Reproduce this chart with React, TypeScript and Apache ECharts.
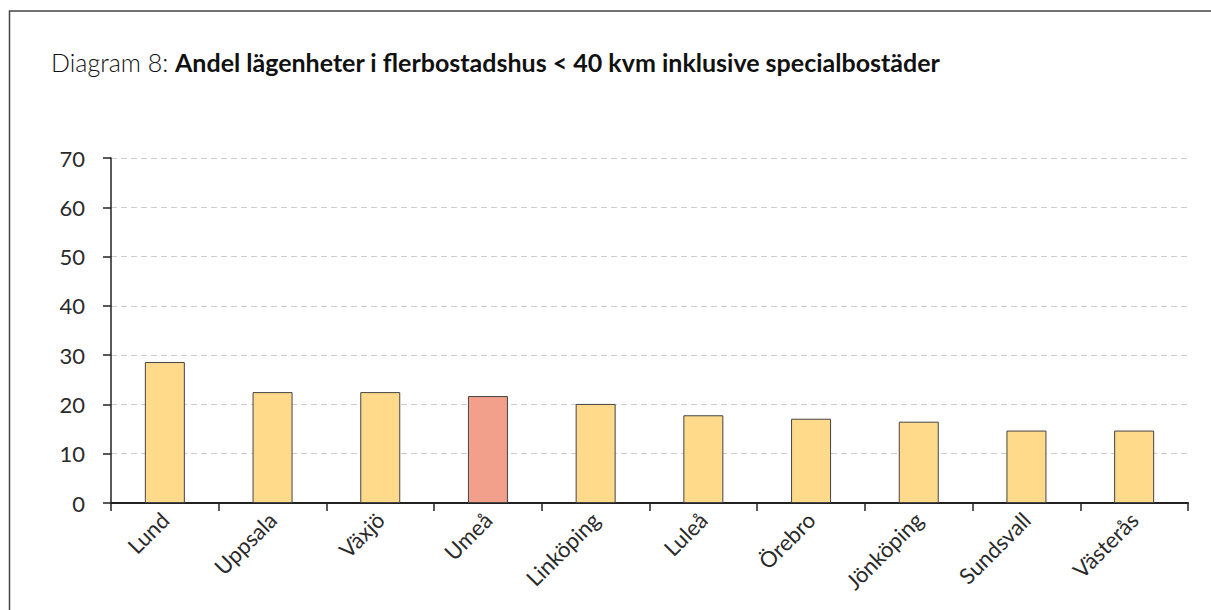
import React, { useEffect, useRef } from "react";
import * as echarts from "echarts";

const categories = ["Lund", "Uppsala", "Växjö", "Umeå", "Linköping", "Luleå", "Örebro", "Jönköping", "Sundsvall", "Västerås"];
const values = [28.6, 22.5, 22.5, 21.7, 20.1, 17.8, 17.1, 16.5, 14.7, 14.7];
const highlight = "Umeå";
const yTicks = [0, 10, 20, 30, 40, 50, 60, 70];

const FONT = "Lato, 'Open Sans', sans-serif";

export default function App() {
  const ref = useRef<HTMLDivElement>(null);
  useEffect(() => {
    if (!ref.current) return;
    const chart = echarts.init(ref.current, undefined, { renderer: "svg" });
    chart.setOption({
      animation: false,
      backgroundColor: "#ffffff",
      title: {
        left: 46,
        top: 44,
        text: "{a|Diagram 8: }{b|Andel lägenheter i flerbostadshus < 40 kvm inklusive specialbostäder}",
        textStyle: {
          rich: {
            a: { fontFamily: FONT, fontSize: 25, fontWeight: 300, color: "#111" },
            b: { fontFamily: FONT, fontSize: 25, fontWeight: "bold", color: "#111" },
          },
        },
      },
      graphic: [
        {
          type: "rect",
          shape: { x: 9.5, y: 11, width: 1400, height: 800 },
          style: { fill: "none", stroke: "#444", lineWidth: 1.5 },
          silent: true,
        },
      ],
      grid: { left: 111, right: 23, top: 158, bottom: 107 },
      xAxis: {
        type: "category",
        data: categories,
        axisLine: { lineStyle: { color: "#222", width: 2 } },
        axisTick: { show: true, length: 8, lineStyle: { color: "#222", width: 1.5 } },
        axisLabel: {
          rotate: 45,
          interval: 0,
          margin: 13,
          fontFamily: FONT,
          fontSize: 22,
          fontWeight: 400,
          color: "#2a2a2a",
        },
      },
      yAxis: {
        type: "value",
        min: yTicks[0],
        max: yTicks[yTicks.length - 1],
        interval: 10,
        axisLine: { show: true, lineStyle: { color: "#222", width: 1.5 } },
        axisTick: { show: true, length: 8, lineStyle: { color: "#222", width: 1.5 } },
        axisLabel: { margin: 26, fontFamily: FONT, fontSize: 22, fontWeight: 400, color: "#2a2a2a" },
        splitLine: { show: true, lineStyle: { color: "#cccccc", type: [6, 4], width: 1 } },
      },
      series: [
        {
          type: "bar",
          barWidth: 40,
          data: values.map((v, i) => ({
            value: v,
            itemStyle: {
              color: categories[i] === highlight ? "#F29F8B" : "#FEDA8A",
              borderColor: "#444",
              borderWidth: 1,
            },
          })),
        },
      ],
    });
    return () => chart.dispose();
  }, []);
  return (
    <div
      ref={ref}
      style={{ position: "absolute", left: 0, top: 0, width: 1211, height: 610 }}
    />
  );
}
